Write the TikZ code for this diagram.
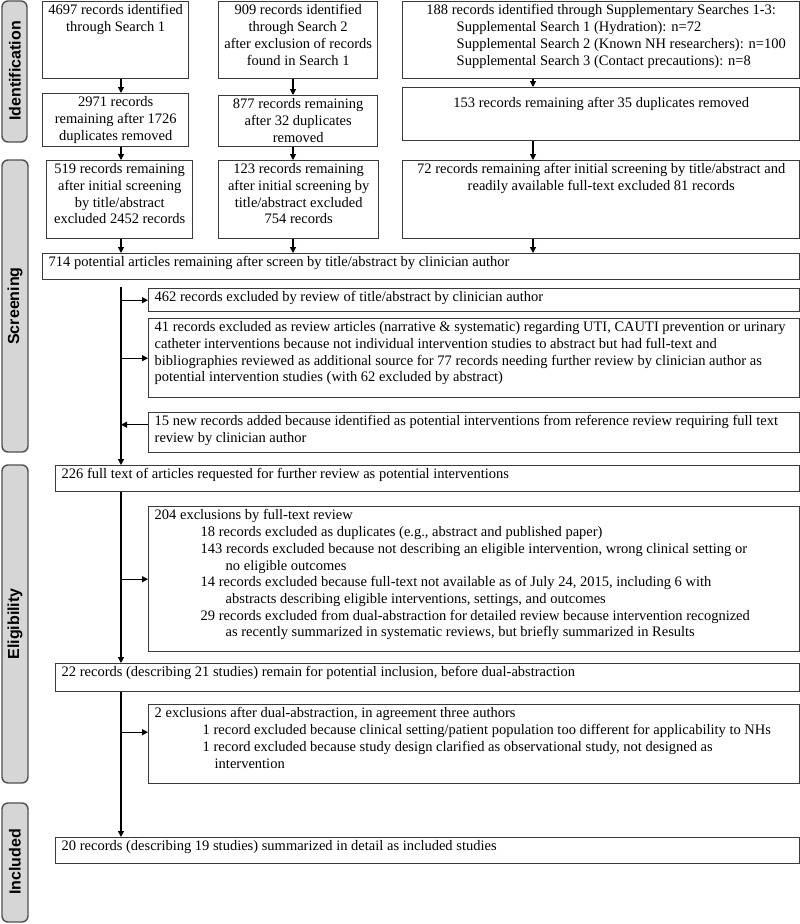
\documentclass[tikz,border=0pt]{standalone}
\usepackage{fontspec}
\setmainfont{Liberation Serif}
\setsansfont{Liberation Sans}
\usepackage{xcolor}
\usepackage{tikz}
\usetikzlibrary{arrows.meta, positioning, calc}

\definecolor{boxline}{HTML}{3A3A3A}
\definecolor{phasefill}{HTML}{D6D6D6}
\definecolor{phaseline}{HTML}{505050}

% text block of fixed size, set at the top of its box
\newcommand{\boxtxt}[3]{\begin{minipage}[t][#2pt][t]{#1pt}#3\end{minipage}}

\begin{document}
\begin{tikzpicture}[x=1pt, y=-1pt,
  font=\fontsize{14.5}{16.7}\selectfont,
  box/.style={draw=boxline, line width=1.4pt, anchor=north west, inner xsep=2pt, inner ysep=3pt},
  widebox/.style={box, inner xsep=6pt},
  phase/.style={draw=phaseline, fill=phasefill, line width=1.4pt, rounded corners=6pt},
  phasetext/.style={rotate=90, font=\sffamily\bfseries\fontsize{16}{18}\selectfont},
  edge/.style={-{Triangle[length=6pt,width=6pt]}, line width=1.2pt}
]
\useasboundingbox (0,0) rectangle (800,924);

% phases
\draw[phase] (2,1) rectangle (27,142);
\draw[phase] (2,160) rectangle (28,452);
\draw[phase] (2,465) rectangle (28,783);
\draw[phase] (2,803) rectangle (28,922);
\node[phasetext] (ph1) at (15,71) {Identification};
\node[phasetext] (ph2) at (15,306) {Screening};
\node[phasetext] (ph3) at (15,624) {Eligibility};
\node[phasetext] (ph4) at (15,862) {Included};

\coordinate (colA) at (121,0);
\coordinate (colB) at (293,0);
\coordinate (colC) at (533,0);

% identification
\node[box] (s1) at (42,1) {\boxtxt{142}{71}{\centering 4697 records identified\\through Search 1}};
\node[box] (s2) at (218,1) {\boxtxt{155}{71}{\centering 909 records identified\\through Search 2\\after exclusion of records\\found in Search 1}};
\node[box] (supp) at (402,1) {\boxtxt{393}{71}{\makebox[393pt][c]{188 records identified through Supplementary Searches 1-3:}\\
  \hspace*{52pt}Supplemental Search 1 (Hydration): n=72\\
  \hspace*{52pt}Supplemental Search 2 (Known NH researchers): n=100\\
  \hspace*{52pt}Supplemental Search 3 (Contact precautions): n=8}};

\node[box] (dup1) at (42,93) {\boxtxt{142}{47}{\centering 2971 records\\remaining after 1726\\duplicates removed}};
\node[box] (dup2) at (218,95) {\boxtxt{155}{45}{\centering 877 records remaining\\after 32 duplicates\\removed}};
\node[box] (dup3) at (402,87) {\boxtxt{393}{47}{\centering\vspace*{7pt}153 records remaining after 35 duplicates removed}};

% screening
\node[box] (scr1) at (46,160) {\boxtxt{142}{72}{\centering 519 records remaining\\after initial screening\\by title/abstract\\excluded 2452 records}};
\node[box] (scr2) at (218,160) {\boxtxt{156}{72}{\centering 123 records remaining\\after initial screening by\\title/abstract excluded\\754 records}};
\node[box] (scr3) at (402,160) {\boxtxt{393}{72}{\centering 72 records remaining after initial screening by title/abstract and\\readily available full-text excluded 81 records}};

\node[widebox] (pool) at (42,253) {\boxtxt{745}{20}{\raggedright 714 potential articles remaining after screen by title/abstract by clinician author}};
\node[widebox] (excl462) at (148,288) {\boxtxt{639}{17}{\raggedright 462 records excluded by review of title/abstract by clinician author}};
\node[widebox] (excl41) at (148,318) {\boxtxt{639}{73}{\raggedright 41 records excluded as review articles (narrative \& systematic) regarding UTI, CAUTI prevention or urinary\\
  catheter interventions because not individual intervention studies to abstract but had full-text and\\
  bibliographies reviewed as additional source for 77 records needing further review by clinician author as\\
  potential intervention studies (with 62 excluded by abstract)}};
\node[widebox] (add15) at (148,412) {\boxtxt{639}{34}{\raggedright 15 new records added because identified as potential interventions from reference review requiring full text\\
  review by clinician author}};

% eligibility
\node[widebox] (fulltext) at (55,465) {\boxtxt{732}{20}{\raggedright 226 full text of articles requested for further review as potential interventions}};
\node[widebox] (excl204) at (148,506) {\boxtxt{639}{139}{\raggedright 204 exclusions by full-text review\\
  \hspace*{46pt}18 records excluded as duplicates (e.g., abstract and published paper)\\
  \hspace*{46pt}143 records excluded because not describing an eligible intervention, wrong clinical setting or\\
  \hspace*{71pt}no eligible outcomes\\
  \hspace*{46pt}14 records excluded because full-text not available as of July 24, 2015, including 6 with\\
  \hspace*{71pt}abstracts describing eligible interventions, settings, and outcomes\\
  \hspace*{46pt}29 records excluded from dual-abstraction for detailed review because intervention recognized\\
  \hspace*{71pt}as recently summarized in systematic reviews, but briefly summarized in Results}};
\node[widebox] (dualpool) at (55,663) {\boxtxt{732}{22}{\raggedright 22 records (describing 21 studies) remain for potential inclusion, before dual-abstraction}};
\node[widebox] (excl2) at (148,704) {\boxtxt{639}{73}{\raggedright 2 exclusions after dual-abstraction, in agreement three authors\\
  \hspace*{48pt}1 record excluded because clinical setting/patient population too different for applicability to NHs\\
  \hspace*{48pt}1 record excluded because study design clarified as observational study, not designed as\\
  \hspace*{60pt}intervention}};

% included
\node[widebox] (incl) at (55,837) {\boxtxt{732}{20}{\raggedright 20 records (describing 19 studies) summarized in detail as included studies}};

% arrows
\draw[edge] (s1.south -| colA) -- (dup1.north -| colA);
\draw[edge] (s2.south -| colB) -- (dup2.north -| colB);
\draw[edge] (supp.south -| colC) -- (dup3.north -| colC);
\draw[edge] (dup1.south -| colA) -- (scr1.north -| colA);
\draw[edge] (dup2.south -| colB) -- (scr2.north -| colB);
\draw[edge] (dup3.south -| colC) -- (scr3.north -| colC);
\draw[edge] (scr1.south -| colA) -- (pool.north -| colA);
\draw[edge] (scr2.south -| colB) -- (pool.north -| colB);
\draw[edge] (scr3.south -| colC) -- (pool.north -| colC);

\coordinate (trunk) at (121,287);
\coordinate (j15) at ([yshift=8pt]add15.west);
\coordinate (j2) at ([yshift=12pt]excl2.west);
\draw[edge] (trunk) -- (fulltext.north -| colA);
\draw[edge] (excl462.west -| colA) -- (excl462.west);
\draw[edge] (excl41.west -| colA) -- (excl41.west);
\draw[edge] (j15) -- (j15 -| colA);
\draw[edge] (fulltext.south -| colA) -- (dualpool.north -| colA);
\draw[edge] (excl204.west -| colA) -- (excl204.west);
\draw[edge] (dualpool.south -| colA) -- (incl.north -| colA);
\draw[edge] (j2 -| colA) -- (j2);
\end{tikzpicture}
\end{document}
